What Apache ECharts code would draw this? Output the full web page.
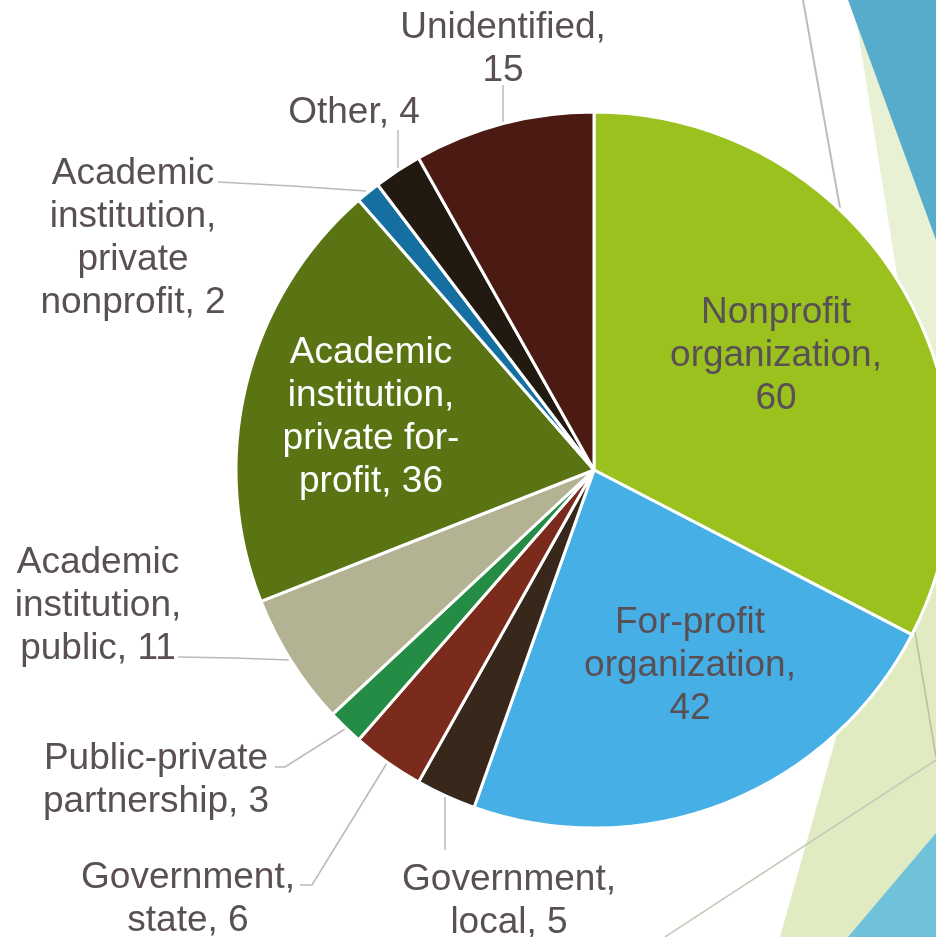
<!DOCTYPE html>
<html><head><meta charset="utf-8">
<script src="https://cdn.jsdelivr.net/npm/echarts@6/dist/echarts.min.js"></script>
<style>html,body{margin:0;padding:0;background:#fff}#c{width:936px;height:937px}</style>
</head><body><div id="c"></div>
<script>
// ---- data ----
const categories = ['Nonprofit organization', 'For-profit organization', 'Government, local', 'Government, state',
  'Public-private partnership', 'Academic institution, public', 'Academic institution, private for-profit',
  'Academic institution, private nonprofit', 'Other', 'Unidentified'];
const values = [60, 42, 5, 6, 3, 11, 36, 2, 4, 15];
// label text templates (line wrapping as in the reference)
const labelTemplates = ['Nonprofit\norganization,\n{v}', 'For-profit\norganization,\n{v}', 'Government,\nlocal, {v}',
  'Government,\nstate, {v}', 'Public-private\npartnership, {v}', 'Academic\ninstitution,\npublic, {v}',
  'Academic\ninstitution,\nprivate for-\nprofit, {v}', 'Academic\ninstitution,\nprivate\nnonprofit, {v}',
  'Other, {v}', 'Unidentified,\n{v}'];

// ---- styles / layout ----
const colors = ['#9BC11F', '#46B0E6', '#38271B', '#7A2B1B', '#258C45', '#B3B394', '#5A7414', '#1570A1', '#221911', '#4B1A12'];
const labelColors = ['#595056', '#595056', '#595056', '#595056', '#595056', '#595056', '#ffffff', '#595056', '#595056', '#595056'];
const labelPos = [[776, 356], [690, 666], [509, 901], [188, 899], [156, 780], [98, 606], [371, 417], [133, 238], [354, 113], [503, 49]];
const leaderPts = [null, null,
  [[445, 797], [445, 824], [445, 850]],
  [[387, 763], [312, 885], [300, 885]],
  [[345, 729], [285, 767], [275, 767]],
  [[290, 660], [234, 658], [178, 657]],
  null,
  [[366, 191], [292, 186], [218, 182]],
  [[398, 168], [398, 149], [398, 130]],
  [[503, 122], [503, 104], [503, 85]]];

const chart = echarts.init(document.getElementById('c'));
const data = categories.map((name, i) => ({
  name: name,
  value: values[i],
  itemStyle: { color: colors[i] },
  label: { color: labelColors[i] },
  labelLine: { show: !!leaderPts[i] }
}));

chart.setOption({
  animation: false,
  backgroundColor: '#ffffff',
  graphic: [
    { type: 'polygon', z: 0, shape: { points: [[853, 0], [936, 0], [936, 431], [922, 431]] }, style: { fill: '#E9F1D5' } },
    { type: 'polygon', z: 0, shape: { points: [[922, 431], [936, 431], [936, 937], [780, 937]] }, style: { fill: '#E1EBC2' } },
    { type: 'polygon', z: 0, shape: { points: [[848, 0], [936, 0], [936, 240]] }, style: { fill: '#58ACCB' } },
    { type: 'polygon', z: 0, shape: { points: [[936, 833], [936, 937], [848, 937]] }, style: { fill: '#70C2DB' } },
    { type: 'line', z: 0, shape: { x1: 803, y1: 0, x2: 840, y2: 208 }, style: { stroke: '#BDBDBD', lineWidth: 2 } },
    { type: 'line', z: 0, shape: { x1: 915, y1: 632, x2: 936, y2: 757 }, style: { stroke: '#B5BDA0', lineWidth: 1.5 } },
    { type: 'line', z: 0, shape: { x1: 936, y1: 760, x2: 665, y2: 937 }, style: { stroke: '#C5CAB8', lineWidth: 1.5 } }
  ],
  series: [{
    type: 'pie',
    z: 2,
    center: [594, 470],
    radius: 358,
    startAngle: 90,
    clockwise: true,
    avoidLabelOverlap: false,
    emphasis: { disabled: true },
    itemStyle: { borderColor: '#ffffff', borderWidth: 3 },
    label: {
      show: true,
      position: 'outside',
      overflow: 'none',
      fontFamily: 'Liberation Sans',
      fontSize: 37,
      lineHeight: 43,
      align: 'center',
      formatter: p => labelTemplates[p.dataIndex].replace('{v}', p.value)
    },
    labelLine: { show: true, lineStyle: { color: '#BCB8BA', width: 1.5 } },
    labelLayout: function (p) {
      const i = p.dataIndex;
      const r = { x: labelPos[i][0], y: labelPos[i][1], align: 'center', verticalAlign: 'middle' };
      if (leaderPts[i]) r.labelLinePoints = leaderPts[i];
      return r;
    },
    data: data
  }]
});
</script>
</body></html>
